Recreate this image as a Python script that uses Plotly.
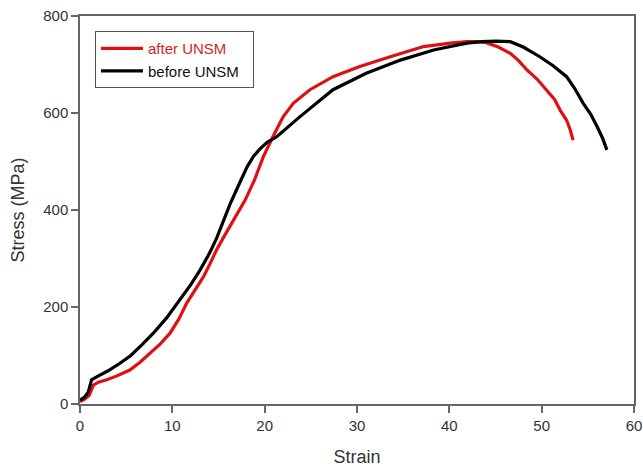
import plotly.graph_objects as go

# after UNSM (red)
after_strain = [0.0, 0.5, 1.0, 1.45, 2.0, 2.9, 4.0, 5.4, 6.5, 7.6, 8.7, 9.75, 10.7, 11.56, 12.5, 13.36, 14.1, 14.8, 15.5, 16.25, 17.1, 17.9, 18.9, 19.86, 21.0, 22.0, 23.1, 24.9, 27.4, 30.3, 33.6, 37.2, 40.1, 41.9, 43.0, 44.0, 45.3, 46.6, 47.5, 48.4, 49.5, 50.6, 51.4, 52.0, 52.7, 53.1, 53.4]
after_stress = [5, 10, 18, 39, 45, 50, 58, 70, 86, 104, 124, 146, 175, 208, 235, 262, 290, 318, 342, 366, 393, 421, 462, 510, 555, 592, 620, 648, 675, 696, 716, 737, 744, 747, 747, 745, 736, 723, 708, 689, 670, 647, 628, 606, 585, 565, 544]

# before UNSM (black)
before_strain = [0.0, 0.5, 0.9, 1.25, 2.0, 3.0, 4.33, 5.5, 6.7, 7.94, 9.4, 10.8, 12.0, 13.0, 14.0, 14.8, 15.5, 16.25, 17.2, 18.1, 18.8, 19.5, 20.3, 21.3, 23.8, 27.4, 31.0, 34.7, 38.3, 41.9, 43.5, 45.0, 46.6, 48.0, 49.8, 51.2, 52.7, 53.6, 54.5, 55.3, 56.0, 56.6, 57.06]
before_stress = [8, 14, 25, 50, 58, 68, 84, 100, 122, 146, 178, 214, 246, 276, 310, 342, 376, 412, 452, 489, 511, 526, 540, 551, 592, 648, 682, 709, 730, 744, 747, 748, 747, 736, 716, 698, 675, 650, 620, 598, 572, 548, 524]

x_ticks = [0, 10, 20, 30, 40, 50, 60]
y_ticks = [0, 200, 400, 600, 800]

FONT = "Liberation Sans, Arial, sans-serif"

fig = go.Figure()
fig.add_trace(go.Scatter(
    x=after_strain, y=after_stress, mode="lines",
    name='<span style="color:#d42424">after UNSM</span>',
    line=dict(color="#e01010", width=3.2),
))
fig.add_trace(go.Scatter(
    x=before_strain, y=before_stress, mode="lines",
    name='<span style="color:#111111">before UNSM</span>  ',
    line=dict(color="#000000", width=3.2),
))

axis_common = dict(
    showline=True, linecolor="#666666", linewidth=1.5, mirror=True,
    ticks="outside", ticklen=7, tickwidth=1.5, tickcolor="#666666",
    showgrid=False, zeroline=False, automargin=False,
    ticklabeloverflow="allow",
    tickfont=dict(family=FONT, size=15, color="#333333"),
)

fig.update_xaxes(range=[0, 60], tickvals=x_ticks,
                 title=dict(text="Strain", font=dict(family=FONT, size=18, color="#333333"), standoff=18),
                 **axis_common)
fig.update_yaxes(range=[0, 800], tickvals=y_ticks,
                 title=dict(text="Stress (MPa)", font=dict(family=FONT, size=18, color="#333333"), standoff=14),
                 **axis_common)

fig.update_layout(
    width=643, height=469,
    margin=dict(l=80, r=9, t=16, b=65),
    paper_bgcolor="white", plot_bgcolor="white",
    showlegend=True,
    legend=dict(
        x=0.027, y=0.961, xanchor="left", yanchor="top",
        bordercolor="#555555", borderwidth=1, bgcolor="white",
        font=dict(family=FONT, size=15, color="#222222"),
        tracegroupgap=0, itemwidth=42,
    ),
)

fig.write_html(
    "out.html",
    config={"displayModeBar": False},
    post_script="document.body.style.margin='0';document.body.style.overflow='hidden';",
)
